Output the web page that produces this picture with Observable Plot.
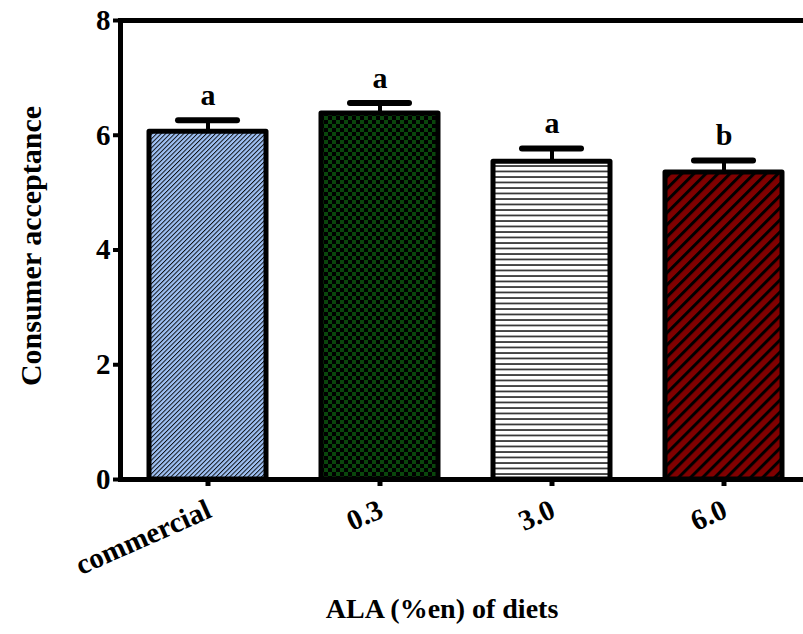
<!DOCTYPE html>
<html>
<head>
<meta charset="utf-8">
<script src="https://cdn.jsdelivr.net/npm/d3@7"></script>
<script src="https://cdn.jsdelivr.net/npm/@observablehq/plot@0.6"></script>
<style>
  body { margin: 0; background: #fff; }
</style>
</head>
<body>
<div id="chart"></div>
<script>
// Consumer acceptance by dietary ALA level (mean + SEM, letters = significance groups)
const categories = ["commercial", "0.3", "3.0", "6.0"];
const means = [6.06, 6.38, 5.54, 5.35];
const sems = [0.20, 0.18, 0.23, 0.21];
const groups = ["a", "a", "a", "b"];
const yTicks = [0, 2, 4, 6, 8];
const xTitle = "ALA (%en) of diets";
const yTitle = "Consumer acceptance";

// fill pattern for each diet (defined as SVG <pattern>s below)
const patternIds = ["hatch-blue", "check-green", "lines-white", "hatch-red"];

const rows = categories.map((diet, i) => ({
  diet,
  mean: means[i],
  top: means[i] + sems[i],
  group: groups[i],
  fill: `url(#${patternIds[i]})`
}));

const font = "'Liberation Serif', 'Times New Roman', serif";

const chart = Plot.plot({
  width: 803,
  height: 634,
  marginTop: 20,
  marginBottom: 155,
  marginLeft: 120,
  marginRight: 0,
  style: { fontFamily: font, fontWeight: "bold", fontSize: "28px", color: "#000", background: "#fff" },
  x: { domain: categories, range: [120, 810], paddingInner: 0.32, paddingOuter: 0.155, label: null },
  y: { domain: [0, 8], label: null },
  color: { type: "identity" },
  marks: [
    Plot.barY(rows, { x: "diet", y: "mean", fill: "fill", stroke: "#000", strokeWidth: 5, strokeLinejoin: "round" }),
    Plot.ruleX(rows, { x: "diet", y1: "mean", y2: "top", stroke: "#000", strokeWidth: 4 }),
    Plot.tickY(rows, { x: "diet", y: "top", stroke: "#000", strokeWidth: 6, strokeLinecap: "round", insetLeft: 29, insetRight: 29 }),
    Plot.text(rows, { x: "diet", y: "top", text: "group", dy: -15, lineAnchor: "bottom", fontSize: 30, fill: "#000" }),
    Plot.axisY({ ticks: yTicks, tickSize: 7, tickPadding: 3, strokeWidth: 4, fontSize: 29, label: null }),
    Plot.axisX({ tickSize: 7, strokeWidth: 5, tickFormat: () => "", label: null }),
    Plot.text(categories, { x: d => d, frameAnchor: "bottom", text: d => d, rotate: -24, textAnchor: "end", lineAnchor: "bottom", dx: 5, dy: 37, fontSize: 29, fill: "#000" }),
    Plot.frame({ anchor: "left", strokeWidth: 5 }),
    Plot.ruleY([0, 8], { stroke: "#000", strokeWidth: 5 }),
    Plot.text([xTitle], { frameAnchor: "bottom", text: d => d, dx: -20, dy: 138, lineAnchor: "bottom", fontSize: 28, fill: "#000" }),
    Plot.text([yTitle], { frameAnchor: "left", text: d => d, rotate: -90, textAnchor: "middle", dx: -89, dy: -4, fontSize: 30, fill: "#000" })
  ]
});

// Pattern definitions for the bar fills
const defs = d3.select(chart).insert("defs", ":first-child");

const blue = defs.append("pattern")
  .attr("id", "hatch-blue").attr("patternUnits", "userSpaceOnUse")
  .attr("width", 3.2).attr("height", 3.2).attr("patternTransform", "rotate(45)");
blue.append("rect").attr("width", 3.2).attr("height", 3.2).attr("fill", "#a0c2f5");
blue.append("line").attr("x1", 0.5).attr("x2", 0.5).attr("y1", -1).attr("y2", 4.2)
  .attr("stroke", "#000").attr("stroke-width", 0.9);

const green = defs.append("pattern")
  .attr("id", "check-green").attr("patternUnits", "userSpaceOnUse")
  .attr("width", 8).attr("height", 8);
green.append("rect").attr("width", 8).attr("height", 8).attr("fill", "#000");
green.append("rect").attr("width", 4).attr("height", 4).attr("fill", "#0a460c");
green.append("rect").attr("x", 4).attr("y", 4).attr("width", 4).attr("height", 4).attr("fill", "#0a460c");

const white = defs.append("pattern")
  .attr("id", "lines-white").attr("patternUnits", "userSpaceOnUse")
  .attr("width", 10).attr("height", 5.5);
white.append("rect").attr("width", 10).attr("height", 5.5).attr("fill", "#fff");
white.append("line").attr("x1", 0).attr("x2", 10).attr("y1", 1).attr("y2", 1)
  .attr("stroke", "#111").attr("stroke-width", 1.5);

const red = defs.append("pattern")
  .attr("id", "hatch-red").attr("patternUnits", "userSpaceOnUse")
  .attr("width", 8.5).attr("height", 8.5).attr("patternTransform", "rotate(45)");
red.append("rect").attr("width", 8.5).attr("height", 8.5).attr("fill", "#800000");
red.append("line").attr("x1", 1.5).attr("x2", 1.5).attr("y1", -1).attr("y2", 9.5)
  .attr("stroke", "#000").attr("stroke-width", 3);

document.getElementById("chart").appendChild(chart);
</script>
</body>
</html>
